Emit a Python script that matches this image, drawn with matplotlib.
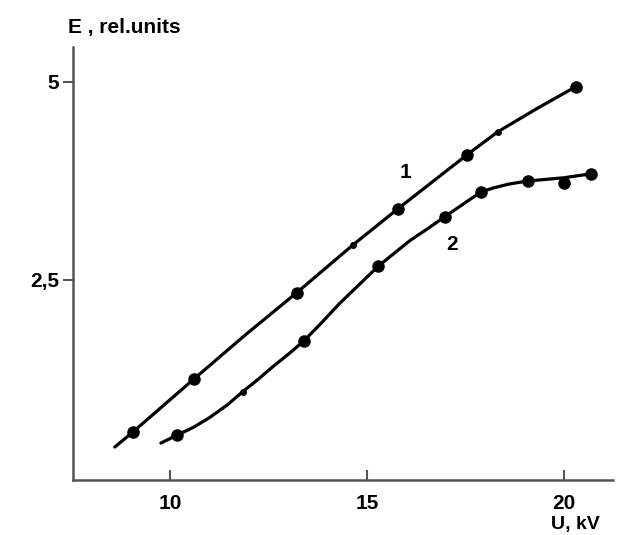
import matplotlib.pyplot as plt

# curve 1: measured points
u1 = [9.06, 10.61, 13.22, 15.79, 17.54, 20.30]
e1 = [0.58, 1.25, 2.34, 3.40, 4.08, 4.94]
u1_minor = [14.64, 18.32]
e1_minor = [2.94, 4.37]
# curve 1: drawn trend line
u1_line = [8.60, 9.06, 10.61, 11.90, 13.22, 14.64, 15.79, 17.54, 18.32, 19.30, 20.30]
e1_line = [0.39, 0.58, 1.25, 1.80, 2.34, 2.94, 3.40, 4.08, 4.37, 4.66, 4.94]

# curve 2: measured points
u2 = [10.18, 13.40, 15.28, 16.98, 17.89, 19.09, 20.00, 20.69]
e2 = [0.54, 1.73, 2.67, 3.30, 3.61, 3.75, 3.72, 3.84]
u2_minor = [11.85]
e2_minor = [1.09]
# curve 2: drawn trend line
u2_line = [9.77, 10.18, 10.60, 11.00, 11.45, 11.85, 12.25, 12.60, 13.00, 13.40,
           13.85, 14.30, 14.80, 15.28, 15.70, 16.10, 16.55, 16.98, 17.45, 17.89,
           18.20, 18.60, 19.09, 19.55, 20.00, 20.69]
e2_line = [0.44, 0.54, 0.64, 0.76, 0.92, 1.09, 1.25, 1.40, 1.56, 1.73,
           1.96, 2.20, 2.44, 2.67, 2.84, 3.00, 3.15, 3.30, 3.46, 3.61,
           3.66, 3.71, 3.75, 3.77, 3.79, 3.84]

xticks = [10, 15, 20]
xtick_labels = ["10", "15", "20"]
yticks = [2.5, 5]
ytick_labels = ["2,5", "5"]

plt.rcParams['font.family'] = ['Liberation Sans', 'DejaVu Sans']

fig = plt.figure(figsize=(6.19, 5.35), dpi=100)
ax = fig.add_axes([0.118, 0.103, 0.872, 0.809])

ax.plot(u1_line, e1_line, color='black', lw=2.3, solid_capstyle='round',
        solid_joinstyle='round')
ax.plot(u1, e1, 'o', color='black', ms=8)
ax.plot(u1_minor, e1_minor, 'o', color='black', ms=4)

ax.plot(u2_line, e2_line, color='black', lw=2.3, solid_capstyle='round',
        solid_joinstyle='round')
ax.plot(u2, e2, 'o', color='black', ms=8)
ax.plot(u2_minor, e2_minor, 'o', color='black', ms=4)

ax.text(15.98, 3.86, "1", fontsize=15, fontweight='bold', ha='center', va='center')
ax.text(17.15, 2.95, "2", fontsize=15, fontweight='bold', ha='center', va='center')

ax.set_xlim(7.54, 21.24)
ax.set_ylim(-0.025, 5.44)

for side in ['top', 'right']:
    ax.spines[side].set_visible(False)
for side in ['left', 'bottom']:
    ax.spines[side].set_color('#555555')
    ax.spines[side].set_linewidth(1.8)

ax.set_xticks(xticks)
ax.set_xticklabels(xtick_labels, fontsize=15, fontweight='bold')
ax.set_yticks(yticks)
ax.set_yticklabels(ytick_labels, fontsize=15, fontweight='bold')
ax.tick_params(axis='x', direction='in', length=7, width=1.5, color='#555555', pad=10)
ax.tick_params(axis='y', direction='out', length=7, width=1.5, color='#555555', pad=3)

fig.text(68 / 619, 1 - 27 / 535, "E , rel.units", fontsize=15, fontweight='bold',
         ha='left', va='center')
fig.text(575 / 619, 1 - 525 / 535, "U, kV", fontsize=14, fontweight='bold',
         ha='center', va='center')

fig.savefig("out.png", dpi=100)
